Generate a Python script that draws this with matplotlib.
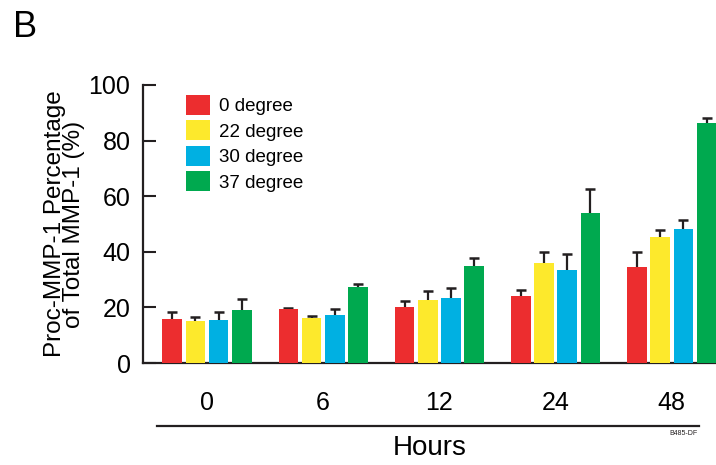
import numpy as np
import matplotlib
matplotlib.use("Agg")
import matplotlib.pyplot as plt
from matplotlib.lines import Line2D

plt.rcParams['font.family'] = ['Liberation Sans', 'DejaVu Sans']

hours = ["0", "6", "12", "24", "48"]
series_names = ["0 degree", "22 degree", "30 degree", "37 degree"]
deg0 = [16.0, 19.3, 20.3, 24.2, 34.5]
deg22 = [15.0, 16.1, 22.6, 36.1, 45.2]
deg30 = [15.6, 17.3, 23.5, 33.5, 48.2]
deg37 = [19.0, 27.5, 34.8, 53.8, 86.3]
err0 = [2.2, 0.4, 2.0, 2.0, 5.5]
err22 = [1.4, 0.9, 3.2, 3.8, 2.7]
err30 = [2.6, 2.0, 3.6, 5.6, 3.4]
err37 = [3.9, 1.0, 3.1, 8.9, 1.8]
colors = ["#EC2D2F", "#FDE92C", "#00B0E2", "#00A94F"]

means = [deg0, deg22, deg30, deg37]
errs = [err0, err22, err30, err37]

W, H = 716, 465
fig = plt.figure(figsize=(W / 100, H / 100), dpi=100)
ax = fig.add_axes([143 / W, 1 - 363 / H, (716 - 143) / W, (363 - 85) / H])

x = np.arange(len(hours))
step = 0.2
width = 0.168
for i, (m, e, c, name) in enumerate(zip(means, errs, colors, series_names)):
    xi = x + (i - 1.5) * step
    ax.bar(xi, m, width=width, color=c, label=name, zorder=3, linewidth=0)
    eb = ax.errorbar(xi, m, yerr=[np.zeros(len(e)), e], fmt='none', ecolor='#231F20',
                     elinewidth=1.6, capsize=3.3, capthick=1.8, zorder=2.8)
    eb[1][0].set_visible(False)

ax.set_xlim(-0.55, 4.38)
ax.set_ylim(0, 100)
ax.set_yticks([0, 20, 40, 60, 80, 100])
ax.set_xticks(x)
ax.set_xticklabels(hours)
ax.tick_params(axis='x', length=0, pad=20, labelsize=18)
ax.tick_params(axis='y', direction='in', length=9, width=1.5, pad=9, labelsize=18,
               color='#231F20')

for s in ['top', 'right']:
    ax.spines[s].set_visible(False)
for s in ['left', 'bottom']:
    ax.spines[s].set_linewidth(1.6)
    ax.spines[s].set_color('#231F20')

ax.set_xlabel("Hours", fontsize=20, va='center')
ax.xaxis.set_label_coords(0.5, (363 - 448) / 278)
ax.set_ylabel("Proc-MMP-1 Percentage\nof Total MMP-1 (%)", fontsize=17.5,
              linespacing=0.86, va='center')
ax.yaxis.set_label_coords((64.5 - 143) / 573, 0.5)

leg = ax.legend(loc='upper left', bbox_to_anchor=((185.7 - 143) / 573, (363 - 95) / 278),
                frameon=False, fontsize=13.5, handlelength=1.28, handleheight=1.27,
                handletextpad=0.48, labelspacing=0.27, borderpad=0, borderaxespad=0)

line = Line2D([(157 - 143) / 573, (699 - 143) / 573], [(363 - 425.7) / 278] * 2,
              transform=ax.transAxes, color='#231F20', linewidth=1.6, clip_on=False)
ax.add_line(line)
ax.text((683 - 143) / 573, (363 - 433) / 278, "B485-DF", transform=ax.transAxes,
        fontsize=5, ha='center', va='center', color='#231F20')

fig.text(13 / W, 1 - 37 / H, "B", fontsize=26, ha='left', va='baseline')

fig.savefig("out.png", dpi=100)
